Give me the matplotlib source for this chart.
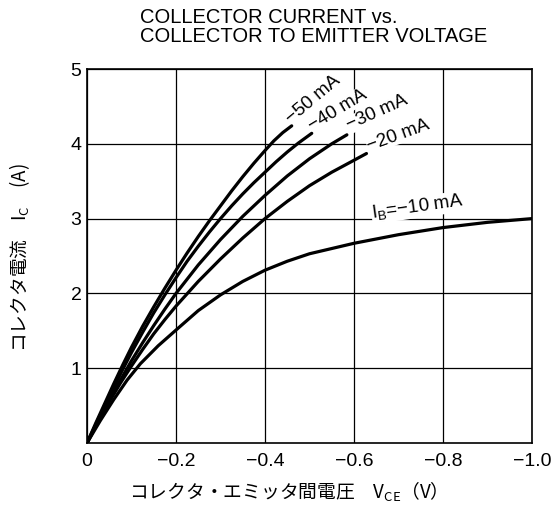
import numpy as np
import matplotlib
matplotlib.use("Agg")
import matplotlib.pyplot as plt

plt.rcParams['font.family'] = ['Liberation Sans', 'Noto Sans CJK JP', 'DejaVu Sans']

# collector-emitter voltage (V, shown as negative) vs collector current (A), one list pair per base current
v_50 = [0, -0.02, -0.04, -0.06, -0.08, -0.1, -0.125, -0.15, -0.175, -0.2, -0.225, -0.25,
        -0.275, -0.3, -0.325, -0.35, -0.375, -0.4, -0.42, -0.44, -0.46]
i_50 = [0, 0.27, 0.53, 0.79, 1.04, 1.28, 1.56, 1.82, 2.07, 2.31, 2.54, 2.76,
        2.97, 3.17, 3.37, 3.56, 3.74, 3.91, 4.04, 4.15, 4.24]

v_40 = [0, -0.02, -0.04, -0.06, -0.08, -0.1, -0.125, -0.15, -0.175, -0.2, -0.225, -0.25,
        -0.275, -0.3, -0.325, -0.35, -0.375, -0.4, -0.425, -0.45, -0.475, -0.505]
i_40 = [0, 0.25, 0.5, 0.74, 0.98, 1.21, 1.48, 1.74, 1.98, 2.21, 2.43, 2.63,
        2.82, 3.0, 3.17, 3.33, 3.48, 3.62, 3.76, 3.89, 4.01, 4.14]

v_30 = [0, -0.025, -0.05, -0.075, -0.1, -0.125, -0.15, -0.175, -0.2, -0.25, -0.3,
        -0.35, -0.4, -0.45, -0.5, -0.55, -0.584]
i_30 = [0, 0.29, 0.57, 0.84, 1.1, 1.34, 1.57, 1.79, 2.0, 2.38, 2.72,
        3.03, 3.31, 3.57, 3.8, 4.0, 4.12]

v_20 = [0, -0.025, -0.05, -0.075, -0.1, -0.125, -0.15, -0.175, -0.2, -0.25, -0.3,
        -0.35, -0.4, -0.45, -0.5, -0.55, -0.6, -0.628]
i_20 = [0, 0.28, 0.55, 0.8, 1.03, 1.25, 1.46, 1.65, 1.83, 2.16, 2.46,
        2.74, 3.0, 3.23, 3.44, 3.62, 3.78, 3.87]

v_10 = [0, -0.03, -0.06, -0.09, -0.12, -0.16, -0.2, -0.25, -0.3, -0.35, -0.4, -0.45,
        -0.5, -0.6, -0.7, -0.8, -0.9, -1.0]
i_10 = [0, 0.3, 0.58, 0.84, 1.06, 1.3, 1.51, 1.77, 1.98, 2.16, 2.31, 2.43,
        2.53, 2.67, 2.785, 2.88, 2.95, 3.0]

x_ticks = [0, -0.2, -0.4, -0.6, -0.8, -1.0]
x_tick_labels = ['0', '\u22120.2', '\u22120.4', '\u22120.6', '\u22120.8', '\u22121.0']
y_ticks = [1, 2, 3, 4, 5]

curve_labels = ['\u221250 mA', '\u221240 mA', '\u221230 mA', '\u221220 mA']
label_pos = [(-0.465, 4.22), (-0.51, 4.13), (-0.592, 4.13), (-0.637, 3.86)]
label_rot = [40, 31, 24, 20]

fig = plt.figure(figsize=(5.52, 5.12), dpi=100)
ax = fig.add_axes([87 / 552, 1 - 443 / 512, 445 / 552, 374 / 512])

for v, i in [(v_50, i_50), (v_40, i_40), (v_30, i_30), (v_20, i_20), (v_10, i_10)]:
    ax.plot(v, i, color='black', lw=2.3, solid_capstyle='round', solid_joinstyle='round', zorder=3)

ax.set_xlim(0, -1.0)
ax.set_ylim(0, 5)
ax.set_xticks(x_ticks)
ax.set_xticklabels(x_tick_labels)
ax.set_yticks(y_ticks)
ax.tick_params(length=0, labelsize=14)
ax.tick_params(axis='x', pad=7)
ax.tick_params(axis='y', pad=4)
ax.grid(True, color='black', lw=0.9)
for s in ax.spines.values():
    s.set_linewidth(1.2)

box = dict(facecolor='white', edgecolor='none', pad=0.3)
for txt, (x, y), r in zip(curve_labels, label_pos, label_rot):
    ax.text(x, y, txt, rotation=r, rotation_mode='anchor', ha='left', va='bottom',
            fontsize=13.5, bbox=box, zorder=2)
ax.text(-0.643, 2.93, 'I$_\\mathregular{B}$=\u221210 mA', rotation=8, rotation_mode='anchor',
        ha='left', va='bottom', fontsize=13.5, bbox=box, zorder=2)

fig.text(140 / 552, 1 - 27 / 512, 'COLLECTOR CURRENT vs.\nCOLLECTOR TO EMITTER VOLTAGE',
         ha='left', va='center', fontsize=14.5, linespacing=0.95)

fig.text(283 / 552, 1 - 492 / 512, 'コレクタ・エミッタ間電圧　$\\mathregular{V_{CE}}$（V）',
         ha='center', va='center', fontsize=13.5, family='Noto Sans CJK JP')
fig.text(20 / 552, 1 - 258 / 512, 'コレクタ電流　$\\mathregular{I_C}$　(A)',
         ha='center', va='center', rotation=90, fontsize=13.5, family='Noto Sans CJK JP')

fig.savefig('out.png', dpi=100)
